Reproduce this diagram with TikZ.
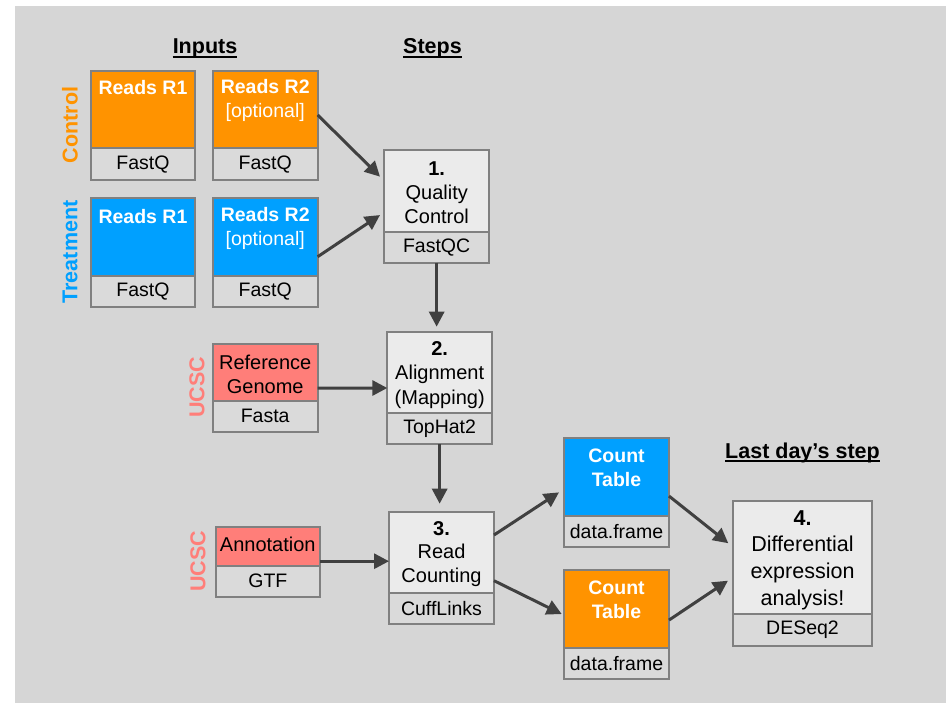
\documentclass[tikz,border=0pt]{standalone}
\usepackage{fontspec}
\setmainfont{Liberation Sans}
\usetikzlibrary{arrows.meta}
\definecolor{bg}{HTML}{D6D6D6}
\definecolor{orng}{HTML}{FF9300}
\definecolor{blu}{HTML}{00A0FF}
\definecolor{salmon}{HTML}{FF7E79}
\definecolor{stepfill}{HTML}{EBEBEB}
\definecolor{stripfill}{HTML}{DADADA}
\definecolor{edge}{HTML}{808080}
\definecolor{arr}{HTML}{404040}
\begin{document}
\begin{tikzpicture}[x=1pt,y=-1pt,
  boxpart/.style={draw=edge, line width=2pt, inner sep=0pt, outer sep=0pt, anchor=north west},
  strip/.style={boxpart, fill=stripfill, font=\fontsize{19.5}{23}\selectfont},
  txt/.style={inner sep=0pt, align=center, font=\fontsize{20}{24}\selectfont},
  wtxt/.style={inner sep=0pt, align=center, text=white, font=\fontsize{19.5}{24}\selectfont\bfseries},
  head/.style={inner sep=0pt, anchor=base, font=\fontsize{21.5}{26}\selectfont\bfseries},
  side/.style={inner sep=0pt, rotate=90, font=\fontsize{21.5}{26}\selectfont\bfseries},
  flow/.style={draw=arr, line width=3pt, -{Triangle[length=15pt,width=15pt]}}
]
\useasboundingbox (0,0) rectangle (949,703);
\fill[bg] (15,6) rectangle (946,703);

% headings
\node[head] (hin) at (205,54) {Inputs};
\draw[line width=1.3pt] ([yshift=-3]hin.base west) -- ([yshift=-3]hin.base east);
\node[head] (hst) at (432.5,54) {Steps};
\draw[line width=1.3pt] ([yshift=-3]hst.base west) -- ([yshift=-3]hst.base east);
\node[head] (hld) at (802.5,458) {Last day’s step};
\draw[line width=1.3pt] ([yshift=-3]hld.base west) -- ([yshift=-3]hld.base east);

% side labels
\node[side, text=orng] (lctl) at (70,125) {Control};
\node[side, text=blu] (ltrt) at (70,252) {Treatment};
\node[side, text=salmon] (lu1) at (197,387.5) {UCSC};
\node[side, text=salmon] (lu2) at (198,561.5) {UCSC};

% Control inputs
\node[boxpart, fill=orng, minimum width=104.6, minimum height=77.6] (cr1) at (90.7,70.7) {};
\node[strip, minimum width=104.6, minimum height=31.7] (cr1l) at (cr1.south west) {FastQ};
\node[wtxt] (cr1t) at (143,88) {Reads R1};
\node[boxpart, fill=orng, minimum width=105, minimum height=77.6] (cr2) at (212.7,70.7) {};
\node[strip, minimum width=105, minimum height=31.7] (cr2l) at (cr2.south west) {FastQ};
\node[wtxt] (cr2t) at (265.2,100.3) {Reads R2\\ {\mdseries[optional]}};

% Treatment inputs
\node[boxpart, fill=blu, minimum width=104.6, minimum height=78] (tr1) at (90.7,198) {};
\node[strip, minimum width=104.6, minimum height=31.3] (tr1l) at (tr1.south west) {FastQ};
\node[wtxt] (tr1t) at (143,216.5) {Reads R1};
\node[boxpart, fill=blu, minimum width=105, minimum height=78] (tr2) at (212.7,198) {};
\node[strip, minimum width=105, minimum height=31.3] (tr2l) at (tr2.south west) {FastQ};
\node[wtxt] (tr2t) at (265.2,228.3) {Reads R2\\ {\mdseries[optional]}};

% Reference genome
\node[boxpart, fill=salmon, minimum width=105, minimum height=56.7] (ref) at (212.7,344) {};
\node[strip, minimum width=105, minimum height=31] (refl) at (ref.south west) {Fasta};
\node[txt] (reft) at (265.2,374.3) {Reference\\Genome};

% Annotation
\node[boxpart, fill=salmon, minimum width=104.3, minimum height=39] (ann) at (215.7,526.7) {};
\node[strip, minimum width=104.3, minimum height=31] (annl) at (ann.south west) {GTF};
\node[txt] (annt) at (267.8,544) {Annotation};

% Step 1
\node[boxpart, fill=stepfill, minimum width=105.3, minimum height=81.7] (s1) at (384,150) {};
\node[strip, minimum width=105.3, minimum height=31] (s1l) at (s1.south west) {FastQC};
\node[txt] (s1t) at (436.7,193) {\textbf{1.}\\Quality\\Control};

% Step 2
\node[boxpart, fill=stepfill, minimum width=104.7, minimum height=81.6] (s2) at (387.3,331.7) {};
\node[strip, minimum width=104.7, minimum height=30.7] (s2l) at (s2.south west) {TopHat2};
\node[txt, font=\fontsize{20}{24.5}\selectfont] (s2t) at (439.7,374.7) {\textbf{2.}\\Alignment\\(Mapping)};

% Step 3
\node[boxpart, fill=stepfill, minimum width=105, minimum height=81] (s3) at (389,511.7) {};
\node[strip, minimum width=105, minimum height=31.3] (s3l) at (s3.south west) {CuffLinks};
\node[txt, font=\fontsize{20}{23.8}\selectfont] (s3t) at (441.5,554) {\textbf{3.}\\Read\\Counting};

% Count tables
\node[boxpart, fill=blu, minimum width=105, minimum height=77.7] (ctb) at (564,438.3) {};
\node[strip, minimum width=105, minimum height=30.7] (ctbl) at (ctb.south west) {data.frame};
\node[wtxt] (ctbt) at (616.5,467.5) {Count\\Table};
\node[boxpart, fill=orng, minimum width=105, minimum height=78.3] (cto) at (564,570) {};
\node[strip, minimum width=105, minimum height=30.7] (ctol) at (cto.south west) {data.frame};
\node[wtxt] (ctot) at (616.5,599.5) {Count\\Table};

% Step 4
\node[boxpart, fill=stepfill, minimum width=139.6, minimum height=113.3] (s4) at (732.7,501) {};
\node[strip, minimum width=139.6, minimum height=31.4] (s4l) at (s4.south west) {DESeq2};
\node[txt, font=\fontsize{21.5}{26.7}\selectfont] (s4t) at (802.5,560) {\textbf{4.}\\Differential\\expression\\analysis!};

% connectors
\draw[flow] ([shift={(0,5.5)}]cr2.east) -- ([shift={(-4,-14.2)}]s1.west);
\draw[flow] ([shift={(0,19.7)}]tr2.east) -- ([shift={(-4,24.2)}]s1.west);
\draw[flow, shorten >=5pt] (s1l.south) -- (s1l.south |- s2.north);
\draw[flow] ([shift={(0,15.7)}]ref.east) -- ([shift={(0,15.5)}]s2.west);
\draw[flow, shorten >=8pt] (s2l.south) -- (s2l.south |- s3.north);
\draw[flow] ([shift={(0,15)}]ann.east) -- ([shift={(0,9)}]s3.west);
\draw[flow] ([shift={(0,-17.2)}]s3.east) -- ([shift={(-5,15.2)}]ctb.west);
\draw[flow] ([shift={(0,28.5)}]s3.east) -- ([shift={(-2.3,4.9)}]cto.west);
\draw[flow] ([shift={(0,18.9)}]ctb.east) -- ([shift={(-4.4,-14.4)}]s4.west);
\draw[flow] ([shift={(0,10.9)}]cto.east) -- ([shift={(-4.7,23)}]s4.west);
\end{tikzpicture}
\end{document}
